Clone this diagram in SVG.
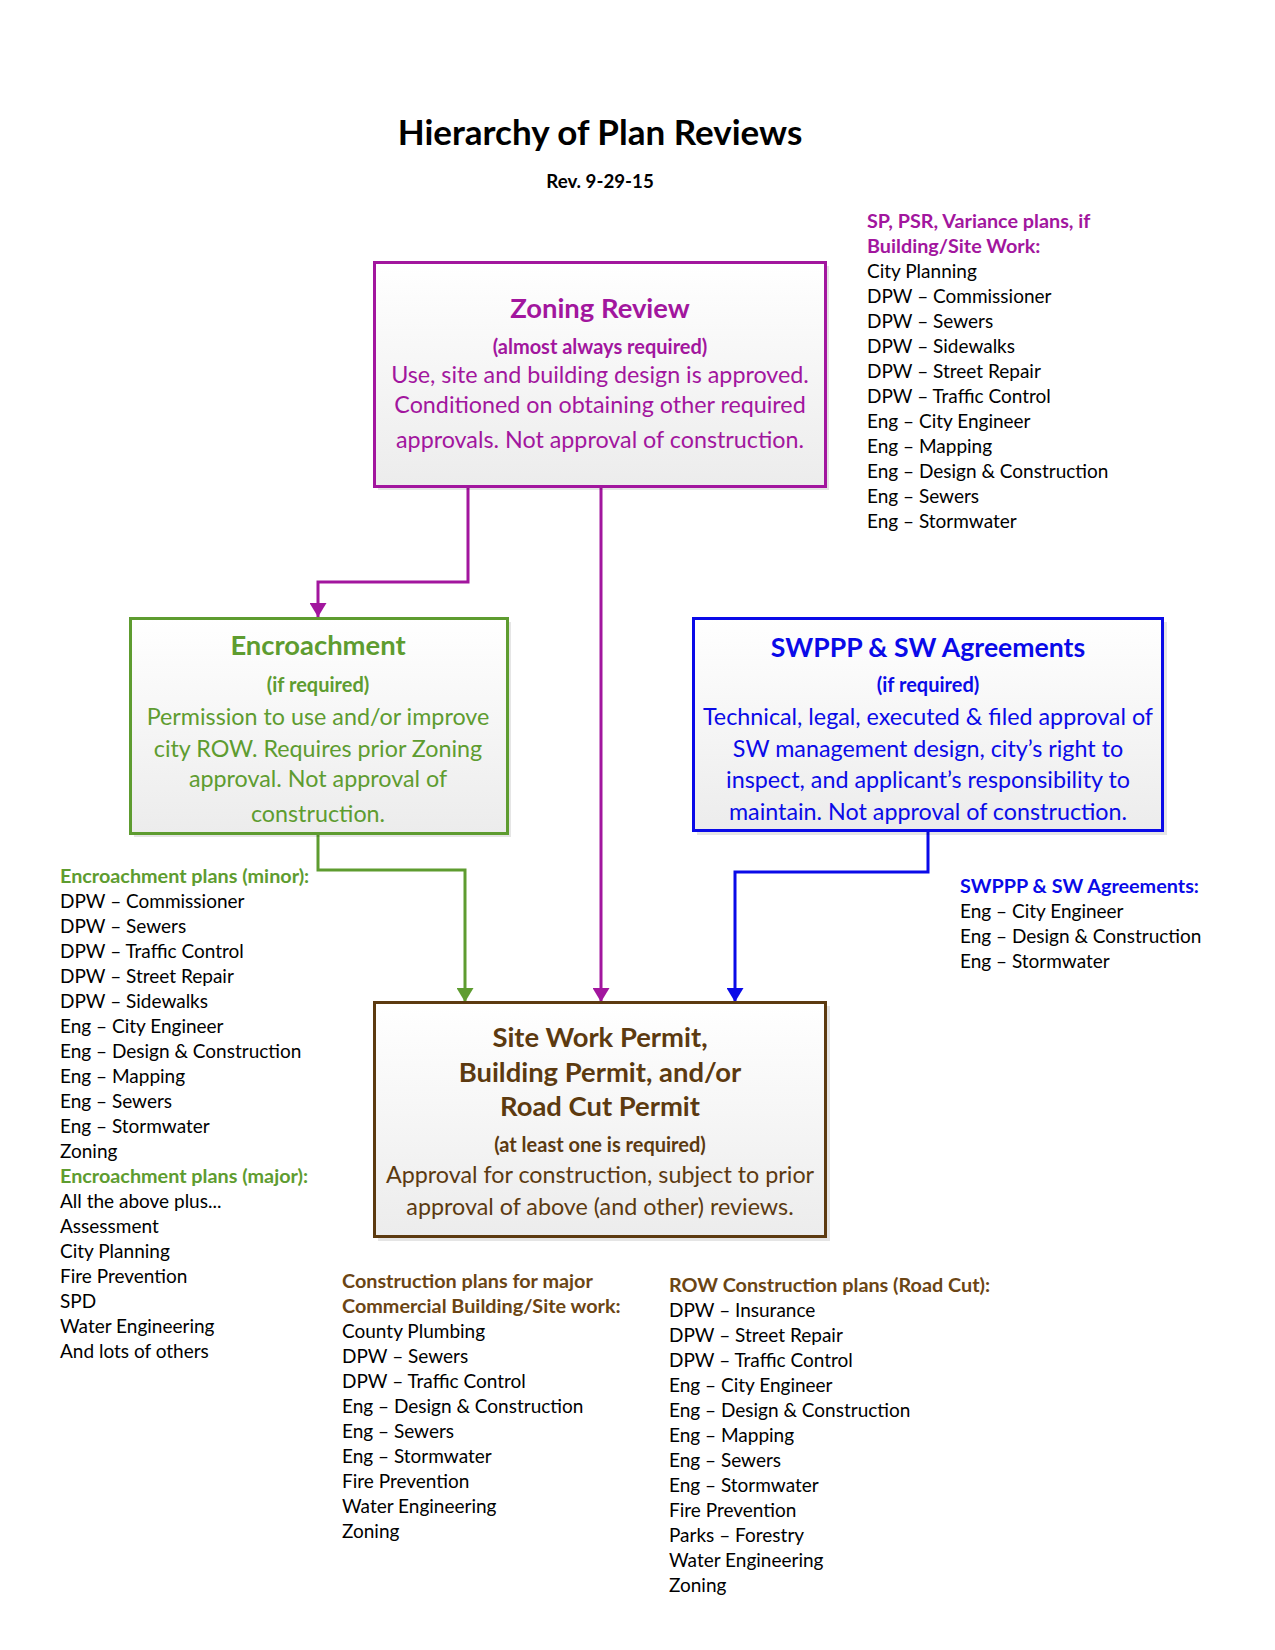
<svg xmlns="http://www.w3.org/2000/svg" width="1275" height="1650" viewBox="0 0 1275 1650">
<style>
text{font-family:Lato,"Liberation Sans",sans-serif}
.ttl{font-weight:bold;font-size:35px;fill:#000;text-anchor:middle}
.rev{font-weight:bold;font-size:18.7px;fill:#000;text-anchor:middle}
.bh{font-weight:bold;font-size:27.4px;text-anchor:middle}
.bs{font-weight:bold;font-size:20px;text-anchor:middle}
.bt{font-size:23.3px;text-anchor:middle}
.li{font-size:19px;fill:#000}
.lh{font-size:19.8px;font-weight:bold}
.pu{fill:#A2169E}.gr{fill:#5E9C30}.bl{fill:#0A0AE8}.br{fill:#5C3A10}.brh{fill:#6B4514}
.box{stroke-width:3}
.sh{fill:#000;opacity:0.10}
.cn{fill:none;stroke-width:3}
</style>
<defs>
<linearGradient id="g" x1="0" y1="0" x2="0" y2="1">
<stop offset="0" stop-color="#ffffff"/>
<stop offset="1" stop-color="#ececec"/>
</linearGradient>
<marker id="aG" markerUnits="userSpaceOnUse" markerWidth="17" markerHeight="16" refX="8.5" refY="15" viewBox="0 0 17 16"><path d="M0,1 L17,1 L8.5,15 Z" fill="#5E9C30"/></marker>
<marker id="aB" markerUnits="userSpaceOnUse" markerWidth="17" markerHeight="16" refX="8.5" refY="15" viewBox="0 0 17 16"><path d="M0,1 L17,1 L8.5,15 Z" fill="#0A0AE8"/></marker>
<marker id="aM" markerUnits="userSpaceOnUse" markerWidth="17" markerHeight="16" refX="8.5" refY="15" viewBox="0 0 17 16"><path d="M0,1 L17,1 L8.5,15 Z" fill="#A2169E"/></marker>
</defs>
<rect width="1275" height="1650" fill="#fff"/>

<g id="title">
<text class="ttl" x="600" y="145">Hierarchy of Plan Reviews</text>
<text class="rev" x="600" y="188">Rev. 9-29-15</text>
</g>

<g id="connectors">
<path class="cn" stroke="#A2169E" d="M468,487 V582 H318 V617" marker-end="url(#aM)"/>
<path class="cn" stroke="#A2169E" d="M601,487 V1002" marker-end="url(#aM)"/>
<path class="cn" stroke="#5E9C30" d="M318,834 V870 H465 V1002" marker-end="url(#aG)"/>
<path class="cn" stroke="#0A0AE8" d="M928,831 V872 H735 V1002" marker-end="url(#aB)"/>
</g>

<g id="zoning">
<rect class="sh" x="378" y="266" width="451" height="224"/>
<rect class="box" x="374.5" y="262.5" width="451" height="224" fill="url(#g)" stroke="#A2169E"/>
<text class="bh pu" x="600" y="318">Zoning Review</text>
<text class="bs pu" x="600" y="354">(almost always required)</text>
<text class="bt pu" x="600" y="383">Use, site and building design is approved.</text>
<text class="bt pu" x="600" y="413">Conditioned on obtaining other required</text>
<text class="bt pu" x="600" y="448">approvals. Not approval of construction.</text>
</g>

<g id="encroachment">
<rect class="sh" x="134" y="622" width="377" height="215"/>
<rect class="box" x="130.5" y="618.5" width="377" height="215" fill="url(#g)" stroke="#5E9C30"/>
<text class="bh gr" x="318" y="655">Encroachment</text>
<text class="bs gr" x="318" y="692">(if required)</text>
<text class="bt gr" x="318" y="725">Permission to use and/or improve</text>
<text class="bt gr" x="318" y="757">city ROW. Requires prior Zoning</text>
<text class="bt gr" x="318" y="787">approval. Not approval of</text>
<text class="bt gr" x="318" y="822">construction.</text>
</g>

<g id="swppp">
<rect class="sh" x="697" y="622" width="470" height="213"/>
<rect class="box" x="693.5" y="618.5" width="469" height="212" fill="url(#g)" stroke="#0A0AE8"/>
<text class="bh bl" x="928" y="657" style="font-size:26.6px">SWPPP &amp; SW Agreements</text>
<text class="bs bl" x="928" y="692">(if required)</text>
<text class="bt bl" x="928" y="725">Technical, legal, executed &amp; filed approval of</text>
<text class="bt bl" x="928" y="757">SW management design, city’s right to</text>
<text class="bt bl" x="928" y="788">inspect, and applicant’s responsibility to</text>
<text class="bt bl" x="928" y="820">maintain. Not approval of construction.</text>
</g>

<g id="permit">
<rect class="sh" x="378" y="1006" width="452" height="235"/>
<rect class="box" x="374.5" y="1002.5" width="451" height="234" fill="url(#g)" stroke="#5C3A10"/>
<text class="bh br" x="600" y="1047">Site Work Permit,</text>
<text class="bh br" x="600" y="1082">Building Permit, and/or</text>
<text class="bh br" x="600" y="1116">Road Cut Permit</text>
<text class="bs br" x="600" y="1152">(at least one is required)</text>
<text class="bt br" x="600" y="1183">Approval for construction, subject to prior</text>
<text class="bt br" x="600" y="1215">approval of above (and other) reviews.</text>
</g>

<g id="list-zoning">
<text class="lh pu" x="867" y="228">SP, PSR, Variance plans, if</text>
<text class="lh pu" x="867" y="253">Building/Site Work:</text>
<text class="li" x="867" y="278">City Planning</text>
<text class="li" x="867" y="303">DPW – Commissioner</text>
<text class="li" x="867" y="328">DPW – Sewers</text>
<text class="li" x="867" y="353">DPW – Sidewalks</text>
<text class="li" x="867" y="378">DPW – Street Repair</text>
<text class="li" x="867" y="403">DPW – Traffic Control</text>
<text class="li" x="867" y="428">Eng – City Engineer</text>
<text class="li" x="867" y="453">Eng – Mapping</text>
<text class="li" x="867" y="478">Eng – Design &amp; Construction</text>
<text class="li" x="867" y="503">Eng – Sewers</text>
<text class="li" x="867" y="528">Eng – Stormwater</text>
</g>

<g id="list-encroachment">
<text class="lh gr" x="60" y="883">Encroachment plans (minor):</text>
<text class="li" x="60" y="908">DPW – Commissioner</text>
<text class="li" x="60" y="933">DPW – Sewers</text>
<text class="li" x="60" y="958">DPW – Traffic Control</text>
<text class="li" x="60" y="983">DPW – Street Repair</text>
<text class="li" x="60" y="1008">DPW – Sidewalks</text>
<text class="li" x="60" y="1033">Eng – City Engineer</text>
<text class="li" x="60" y="1058">Eng – Design &amp; Construction</text>
<text class="li" x="60" y="1083">Eng – Mapping</text>
<text class="li" x="60" y="1108">Eng – Sewers</text>
<text class="li" x="60" y="1133">Eng – Stormwater</text>
<text class="li" x="60" y="1158">Zoning</text>
<text class="lh gr" x="60" y="1183">Encroachment plans (major):</text>
<text class="li" x="60" y="1208">All the above plus...</text>
<text class="li" x="60" y="1233">Assessment</text>
<text class="li" x="60" y="1258">City Planning</text>
<text class="li" x="60" y="1283">Fire Prevention</text>
<text class="li" x="60" y="1308">SPD</text>
<text class="li" x="60" y="1333">Water Engineering</text>
<text class="li" x="60" y="1358">And lots of others</text>
</g>

<g id="list-swppp">
<text class="lh bl" x="960" y="893">SWPPP &amp; SW Agreements:</text>
<text class="li" x="960" y="918">Eng – City Engineer</text>
<text class="li" x="960" y="943">Eng – Design &amp; Construction</text>
<text class="li" x="960" y="968">Eng – Stormwater</text>
</g>

<g id="list-construction">
<text class="lh brh" x="342" y="1288">Construction plans for major</text>
<text class="lh brh" x="342" y="1313">Commercial Building/Site work:</text>
<text class="li" x="342" y="1338">County Plumbing</text>
<text class="li" x="342" y="1363">DPW – Sewers</text>
<text class="li" x="342" y="1388">DPW – Traffic Control</text>
<text class="li" x="342" y="1413">Eng – Design &amp; Construction</text>
<text class="li" x="342" y="1438">Eng – Sewers</text>
<text class="li" x="342" y="1463">Eng – Stormwater</text>
<text class="li" x="342" y="1488">Fire Prevention</text>
<text class="li" x="342" y="1513">Water Engineering</text>
<text class="li" x="342" y="1538">Zoning</text>
</g>

<g id="list-row">
<text class="lh brh" x="669" y="1292">ROW Construction plans (Road Cut):</text>
<text class="li" x="669" y="1317">DPW – Insurance</text>
<text class="li" x="669" y="1342">DPW – Street Repair</text>
<text class="li" x="669" y="1367">DPW – Traffic Control</text>
<text class="li" x="669" y="1392">Eng – City Engineer</text>
<text class="li" x="669" y="1417">Eng – Design &amp; Construction</text>
<text class="li" x="669" y="1442">Eng – Mapping</text>
<text class="li" x="669" y="1467">Eng – Sewers</text>
<text class="li" x="669" y="1492">Eng – Stormwater</text>
<text class="li" x="669" y="1517">Fire Prevention</text>
<text class="li" x="669" y="1542">Parks – Forestry</text>
<text class="li" x="669" y="1567">Water Engineering</text>
<text class="li" x="669" y="1592">Zoning</text>
</g>
</svg>
